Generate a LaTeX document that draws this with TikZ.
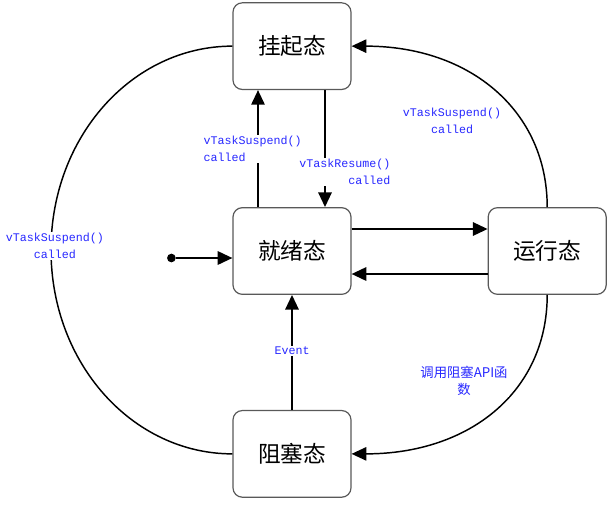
\documentclass[tikz,border=0pt]{standalone}
\usepackage{fontspec}
\usepackage{xcolor}
\usepackage{tikz}
\usetikzlibrary{arrows.meta,positioning}
\newfontfamily\cjkfont{Noto Sans CJK SC}
\newfontfamily\codefont{Liberation Mono}
\definecolor{callblue}{RGB}{40,40,255}

\begin{document}
\begin{tikzpicture}
  [
    state/.style={rectangle,rounded corners=7pt,draw=black!65,line width=0.9pt,fill=white,
      minimum width=88.5pt,minimum height=65pt,inner sep=0pt,font=\cjkfont\fontsize{17pt}{20pt}\selectfont},
    tip/.style={-{Triangle[length=11pt,width=10pt]}},
    arr/.style={line width=1.5pt,tip},
    curveline/.style={line width=1.1pt},
    dot/.style={circle,fill=black,inner sep=0pt,minimum size=6.5pt},
    call/.style={fill=white,inner sep=1pt,text=callblue,font=\codefont\fontsize{8.75pt}{12.75pt}\selectfont},
    callcjk/.style={fill=white,inner sep=1pt,text=callblue,align=center,font=\cjkfont\fontsize{10pt}{12.75pt}\selectfont}
  ]
  \useasboundingbox (0,0) rectangle (459.75pt,-380.25pt);
  \node[state] (ready) at (219pt,-188.25pt) {就绪态};
  \node[state] (suspended) [above = 87.75pt of ready] {挂起态};
  \node[state] (running) [right = 102pt of ready] {运行态};
  \node[state] (blocked) [below = 86.25pt of ready] {阻塞态};
  \node[dot] (start) at ([xshift=-45.75pt,yshift=-5.25pt]ready.west) {};
  \coordinate (farleft) at (38.25pt,-187.5pt);

  % straight transitions
  \draw[arr] ([xshift=-25.5pt]ready.north) -- ([xshift=-25.5pt]suspended.south);
  \draw[arr] ([xshift=24.75pt]suspended.south) -- ([xshift=24.75pt]ready.north);
  \draw[arr] ([yshift=16.5pt]ready.east) -- ([yshift=16.5pt]running.west);
  \draw[arr] ([yshift=-17.25pt]running.west) -- ([yshift=-17.25pt]ready.east);
  \draw[arr] (blocked) -- (ready);
  \draw[arr] (start) -- (start -| ready.west);

  % curved transitions
  \draw[curveline,tip] (running.north) .. controls +(0,72pt) and +(89pt,0) .. (suspended.east);
  \draw[curveline,tip] (running.south) .. controls +(0,-72pt) and +(89pt,0) .. (blocked.east);
  \draw[curveline] (blocked.west) .. controls +(-75pt,0) and +(0,-85pt) .. (farleft)
    .. controls +(0,85pt) and +(-75pt,0) .. (suspended.west);

  % labels
  \node[call,anchor=west,align=left] (suspendlbl) at (151.5pt,-112pt) {vTaskSuspend()\\called};
  \node[call,anchor=east,align=right] (resumelbl) at (294pt,-129pt) {vTaskResume()\\called};
  \node[call,align=center] (runsuspendlbl) at (339pt,-91pt) {vTaskSuspend()\\called};
  \node[call,align=center] (blocksuspendlbl) at (41.25pt,-184.5pt) {vTaskSuspend()\\called};
  \node[call] (eventlbl) at (219pt,-263.25pt) {Event};
  \node[callcjk] (blocklbl) at (348pt,-285.4pt) {调用阻塞API函\\数};
\end{tikzpicture}
\end{document}
